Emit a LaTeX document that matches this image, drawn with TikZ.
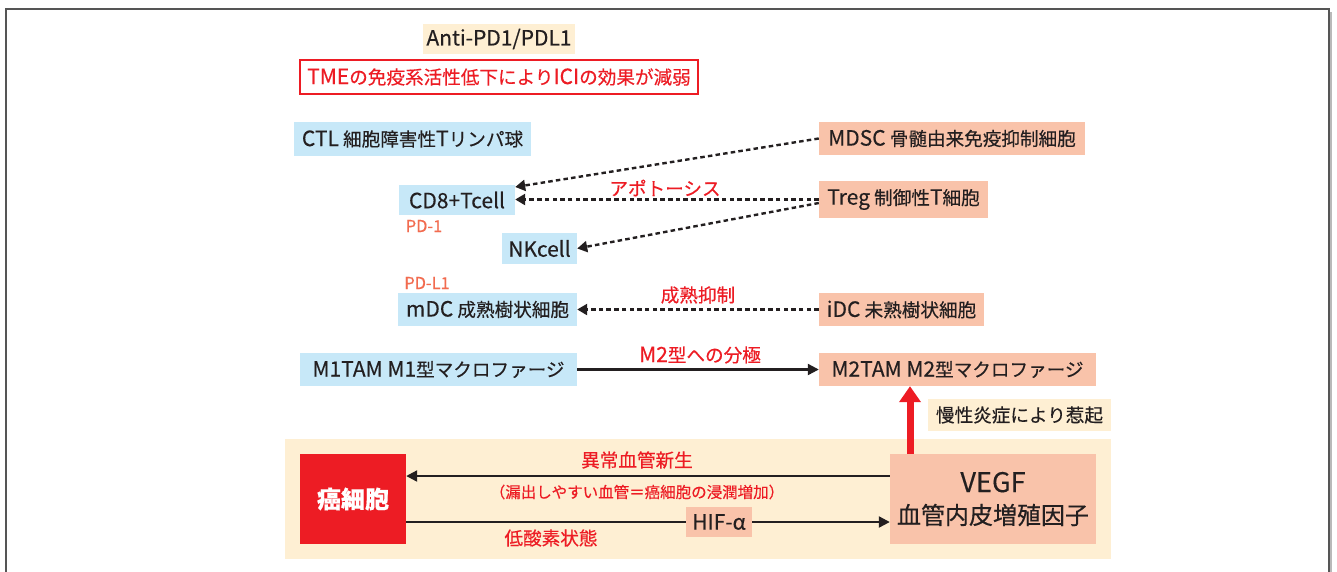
\documentclass[tikz,border=0pt]{standalone}
\usepackage{fontspec}
\setmainfont{Noto Sans CJK JP}[FakeBold=0.35]
\newfontfamily\latx{Noto Sans CJK JP}[Scale=1.13,FakeBold=0.35]
\usetikzlibrary{arrows.meta,calc}
\definecolor{cBlue}{HTML}{C7E8F8}
\definecolor{cSal}{HTML}{F9C3AA}
\definecolor{cBeige}{HTML}{FEEFD3}
\definecolor{cRed}{HTML}{ED1C24}
\definecolor{cOr}{HTML}{F26B4F}
\definecolor{cTxt}{HTML}{231F20}
\definecolor{cFrame}{HTML}{555555}
\begin{document}
\begin{tikzpicture}[x=1pt,y=-1pt,
  box/.style={inner sep=0pt, text=cTxt, font=\fontsize{18.6pt}{22pt}\selectfont},
  bluebox/.style={box, fill=cBlue},
  salbox/.style={box, fill=cSal},
  beigebox/.style={box, fill=cBeige},
  redlab/.style={inner sep=0pt, text=cRed, font=\fontsize{18.6pt}{22pt}\selectfont},
  pdlab/.style={inner sep=0pt, text=cOr, font=\fontsize{14.5pt}{16pt}\selectfont},
  dasharrow/.style={draw=cTxt, line width=2.4pt, dash pattern=on 4.5pt off 3.2pt, -{Triangle[length=10pt,width=11pt]}},
  solidarrow/.style={draw=cTxt, line width=2.2pt, -{Triangle[length=11pt,width=11pt]}},
  solidline/.style={draw=cTxt, line width=2.2pt},
  redarrow/.style={draw=cRed, line width=7pt, -{Triangle[length=16pt,width=21pt]}}
]
\useasboundingbox (0,0) rectangle (1337,571);
% frame with shadow
\fill[gray!55] (9,12) rectangle (1332,590);
\draw[cFrame, line width=1.3pt, fill=white] (6,9) rectangle (1329,587);

% top notes
\node[beigebox, minimum width=152pt, minimum height=30pt] (anti) at (499,39) {{\latx Anti-PD1/PDL1}};
\node[box, draw=cRed, line width=1.2pt, fill=white, text=cRed, minimum width=398pt, minimum height=34pt] (tme) at (499,77) {{\latx TME}の免疫系活性低下により{\latx ICI}の効果が減弱};

% left column
\node[bluebox, minimum width=237pt, minimum height=34pt] (ctl) at (412.5,139) {{\latx CTL} 細胞障害性{\latx T}リンパ球};
\node[bluebox, minimum width=116pt, minimum height=30pt] (cd8) at (457,200) {{\latx CD8+Tcell}};
\node[pdlab] (pd1) at (424,226) {{\latx PD-1}};
\node[bluebox, minimum width=75pt, minimum height=31pt] (nk) at (539.5,248.5) {{\latx NKcell}};
\node[pdlab] (pdl1) at (427,283) {{\latx PD-L1}};
\node[bluebox, minimum width=179pt, minimum height=33pt] (mdc) at (487.5,309.5) {{\latx mDC} 成熟樹状細胞};
\node[bluebox, minimum width=277pt, minimum height=33pt] (m1) at (438.5,369.5) {{\latx M1TAM M1}型マクロファージ};

% right column
\node[salbox, minimum width=266pt, minimum height=33pt] (mdsc) at (952,138.5) {{\latx MDSC} 骨髄由来免疫抑制細胞};
\node[salbox, minimum width=169pt, minimum height=37pt] (treg) at (903.5,199.5) {{\latx Treg} 制御性{\latx T}細胞};
\node[salbox, minimum width=165pt, minimum height=33pt] (idc) at (901.5,309.5) {{\latx iDC} 未熟樹状細胞};
\node[salbox, minimum width=277pt, minimum height=33pt] (m2) at (957.5,369.5) {{\latx M2TAM M2}型マクロファージ};
\node[beigebox, minimum width=183pt, minimum height=32pt] (chronic) at (1019.5,415) {慢性炎症により惹起};

% dashed connectors
\draw[dasharrow] (mdsc.west) -- ([yshift=13pt]cd8.east);
\draw[dasharrow] (treg.west) -- ([yshift=0.5pt]cd8.east);
\draw[dasharrow] ([yshift=-3.5pt]treg.west) -- (nk.east);
\draw[dasharrow] (idc.west) -- (mdc.east);
\node[redlab] (apop) at (665,188) {アポトーシス};
\node[redlab] (matur) at (698,295) {成熟抑制};

% M1 -> M2
\draw[solidarrow] (m1.east) -- (m2.west);
\node[redlab] (polar) at (700,355) {{\latx M2}型への分極};

% bottom panel
\node[fill=cBeige, inner sep=0pt, minimum width=826pt, minimum height=120pt] (panel) at (698,499) {};
\node[inner sep=0pt, fill=cRed, text=white, font=\fontsize{24pt}{28pt}\selectfont\bfseries, minimum width=106pt, minimum height=90pt] (cancer) at (353,499) {癌細胞};
\node[salbox, minimum width=206pt, minimum height=90pt, align=center, font=\fontsize{24pt}{32pt}\selectfont] (vegf) at (993,499) {{\latx VEGF}\\血管内皮増殖因子};
\node[salbox, minimum width=66pt, minimum height=30pt] (hif) at (719,522) {{\latx HIF-α}};

\draw[solidarrow] ([yshift=23pt]vegf.west) -- ([yshift=23pt]cancer.east);
\draw[solidline] ([yshift=-23pt]cancer.east) -- (hif.west);
\draw[solidarrow] (hif.east) -- ([yshift=-23pt]vegf.west);
\node[redlab] (angio) at (637,460) {異常血管新生};
\node[redlab, font=\fontsize{15.5pt}{18pt}\selectfont] (leak) at (637,492) {（漏出しやすい血管＝癌細胞の浸潤増加）};
\node[redlab] (hypox) at (551,538) {低酸素状態};

% red arrow VEGF -> M2
\draw[redarrow] ([xshift=-83pt]vegf.north) -- ([xshift=-83pt]vegf.north |- m2.south);
\end{tikzpicture}
\end{document}
